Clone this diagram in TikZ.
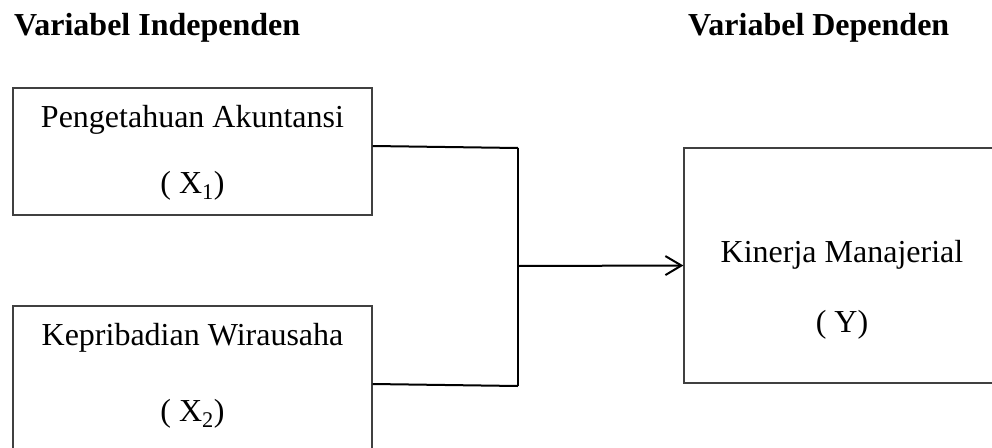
\documentclass[tikz,border=0pt]{standalone}
\usepackage{fontspec}
\setmainfont{Liberation Serif}
\usetikzlibrary{arrows.meta,calc}
\begin{document}
\begin{tikzpicture}[x=1pt,y=-1pt,
  varbox/.style={draw=black!75,line width=1.3pt,rectangle,inner sep=0pt},
  lbl/.style={inner sep=0pt,anchor=base,font=\fontsize{32}{38}\selectfont},
  ttl/.style={inner sep=0pt,anchor=base west,font=\fontsize{32}{38}\selectfont\bfseries},
  conn/.style={draw=black,line width=2pt}]
\useasboundingbox (0,0) rectangle (992,447);
\clip (0,0) rectangle (992,447);
\fill[white] (0,0) rectangle (992,447);
% titles
\node[ttl] (t1) at (14,35) {Variabel Independen};
\node[ttl] (t2) at (688,35) {Variabel Dependen};
% boxes
\node[varbox,minimum width=359pt,minimum height=127pt] (b1) at (192.5,151.5) {};
\node[varbox,minimum width=359pt,minimum height=164pt] (b2) at (192.5,388) {};
\node[varbox,minimum width=316pt,minimum height=235pt] (y) at (842,265.5) {};
% texts
\node[lbl] (b1a) at (192.5,127) {Pengetahuan Akuntansi};
\node[lbl] (b1b) at (192.5,193) {( X\textsubscript{1})};
\node[lbl] (b2a) at (192.5,345) {Kepribadian Wirausaha};
\node[lbl] (b2b) at (192.5,421) {( X\textsubscript{2})};
\node[lbl] (ya) at (842,262) {Kinerja Manajerial};
\node[lbl] (yb) at (842,332) {( Y)};
% connectors
\coordinate (j1) at (518,148);
\coordinate (j2) at (518,386);
\coordinate (jm) at (518,266);
\draw[conn] ([yshift=5.5pt]b1.east) -- (j1);
\draw[conn] ([yshift=4pt]b2.east) -- (j2);
\draw[conn] (j1) -- (j2);
\draw[conn,-{Straight Barb[length=16pt,width=19pt,line width=2pt]}] (jm) -- (y.west);
\end{tikzpicture}
\end{document}
